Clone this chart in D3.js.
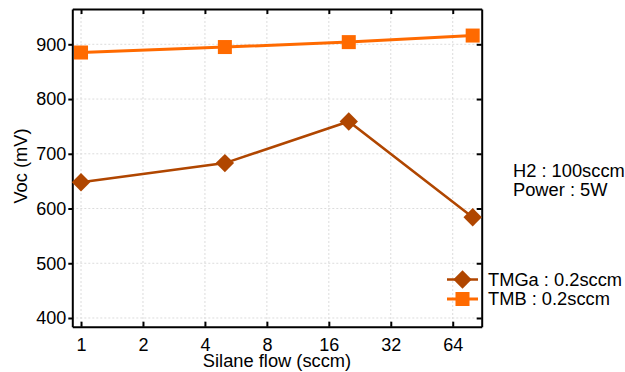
<!DOCTYPE html>
<html>
<head>
<meta charset="utf-8">
<script src="https://cdn.jsdelivr.net/npm/d3@7"></script>
<style>
  html, body { margin: 0; padding: 0; background: #fff; }
  svg { display: block; font-family: "Liberation Sans", Arial, sans-serif; }
</style>
</head>
<body>
<svg id="chart" width="625" height="372"></svg>
<script>
// Silane flow (sccm) for each deposition run
const silaneFlow = [1, 5, 20, 80];
// Open-circuit voltage (mV) per dopant source
const vocTMGa = [648, 683, 759, 584];
const vocTMB = [885, 895, 904, 916];
const xTickValues = [1, 2, 4, 8, 16, 32, 64];
const yTickValues = [400, 500, 600, 700, 800, 900];
const seriesNames = ["TMGa : 0.2sccm", "TMB : 0.2sccm"];
const conditionLines = ["H2 : 100sccm", "Power : 5W"];

(function draw() {
  const svg = d3.select("#chart");
  const plotLeft = 72.3, plotRight = 481.7, plotTop = 9, plotBottom = 326.7;
  const labelSize = 18.3, tickSize = 18;

  const x = d3.scaleLog().base(2).domain([0.907, 88.5]).range([plotLeft, plotRight]);
  const y = d3.scaleLinear().domain([384.1, 964.5]).range([plotBottom, plotTop]);

  // dashed grid
  const grid = svg.append("g").attr("stroke", "#dcdcdc").attr("stroke-width", 1).attr("stroke-dasharray", "2,2");
  xTickValues.forEach(v => grid.append("line").attr("x1", x(v)).attr("x2", x(v)).attr("y1", plotTop).attr("y2", plotBottom));
  yTickValues.forEach(v => grid.append("line").attr("x1", plotLeft).attr("x2", plotRight).attr("y1", y(v)).attr("y2", y(v)));

  // axes
  const fmt = d => String(d);
  const bottomAxis = svg.append("g").attr("transform", `translate(0,${plotBottom})`)
    .call(d3.axisBottom(x).tickValues(xTickValues).tickFormat(fmt).tickSizeInner(-5).tickSizeOuter(0).tickPadding(12));
  const topAxis = svg.append("g").attr("transform", `translate(0,${plotTop})`)
    .call(d3.axisTop(x).tickValues(xTickValues).tickFormat("").tickSizeInner(-5).tickSizeOuter(0));
  const leftAxis = svg.append("g").attr("transform", `translate(${plotLeft},0)`)
    .call(d3.axisLeft(y).tickValues(yTickValues).tickFormat(fmt).tickSizeInner(4).tickSizeOuter(0).tickPadding(2));
  const rightAxis = svg.append("g").attr("transform", `translate(${plotRight},0)`)
    .call(d3.axisRight(y).tickValues(yTickValues).tickFormat("").tickSizeInner(-5).tickSizeOuter(0));

  [bottomAxis, topAxis, leftAxis, rightAxis].forEach(g => {
    g.selectAll(".domain").attr("stroke", "#000").attr("stroke-width", 2);
    g.selectAll(".tick line").attr("stroke", "#000").attr("stroke-width", 2);
    g.selectAll("text").attr("font-size", tickSize).attr("fill", "#000").attr("font-family", "Liberation Sans, Arial, sans-serif");
  });

  // axis titles
  svg.append("text").attr("x", (plotLeft + plotRight) / 2).attr("y", 367).attr("text-anchor", "middle")
    .attr("font-size", labelSize).text("Silane flow (sccm)");
  svg.append("text").attr("transform", `translate(27,166) rotate(-90)`).attr("text-anchor", "middle")
    .attr("font-size", labelSize).text("Voc (mV)");

  // series
  const colors = ["#B04600", "#FF6A00"];
  const series = [vocTMGa, vocTMB];
  const line = d3.line().x(d => x(d[0])).y(d => y(d[1]));

  function marker(g, i, cx, cy) {
    if (i === 0) {
      g.append("rect").attr("x", cx - 6.5).attr("y", cy - 6.5).attr("width", 13).attr("height", 13)
        .attr("transform", `rotate(45,${cx},${cy})`).attr("fill", colors[i]);
    } else {
      g.append("rect").attr("x", cx - 7).attr("y", cy - 7).attr("width", 14).attr("height", 14).attr("fill", colors[i]);
    }
  }

  series.forEach((vals, i) => {
    const pts = silaneFlow.map((f, k) => [f, vals[k]]);
    const g = svg.append("g");
    g.append("path").attr("d", line(pts)).attr("fill", "none").attr("stroke", colors[i])
      .attr("stroke-width", i === 0 ? 2.5 : 3);
    pts.forEach(p => marker(g, i, x(p[0]), y(p[1])));
  });

  // legend
  const legend = svg.append("g");
  seriesNames.forEach((name, i) => {
    const ly = 279.5 + i * 19.5;
    legend.append("line").attr("x1", 447).attr("x2", 478).attr("y1", ly).attr("y2", ly)
      .attr("stroke", colors[i]).attr("stroke-width", i === 0 ? 2.5 : 3);
    marker(legend, i, 462.5, ly);
    legend.append("text").attr("x", 488).attr("y", ly + 6).attr("font-size", labelSize).text(name);
  });

  // deposition conditions
  conditionLines.forEach((t, i) => {
    svg.append("text").attr("x", 513).attr("y", 177.3 + i * 18.5).attr("font-size", labelSize).text(t);
  });
})();
</script>
</body>
</html>
